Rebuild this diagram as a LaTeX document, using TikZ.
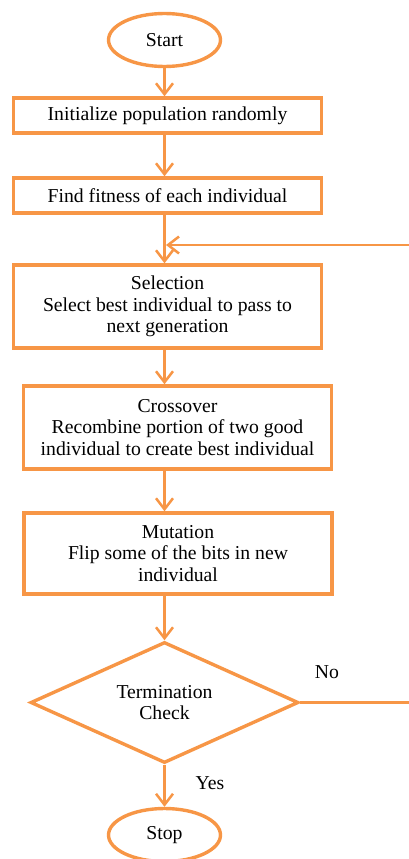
\documentclass[tikz,border=0pt]{standalone}
\usepackage{fontspec}
\setmainfont{Liberation Serif}
\usetikzlibrary{shapes.geometric,arrows.meta}
\definecolor{flow}{HTML}{F79646}
\begin{document}
\begin{tikzpicture}[x=1pt,y=-1pt,
  every node/.style={font=\fontsize{19.7}{21.6}\selectfont, text=black},
  procbox/.style={draw=flow, line width=3.4pt, rectangle, inner sep=0pt, align=center, minimum width=308pt},
  termin/.style={draw=flow, line width=3.4pt, ellipse, inner sep=0pt, minimum width=112pt, minimum height=53pt},
  decide/.style={draw=flow, line width=3.4pt, diamond, inner sep=0pt, aspect=2.2, minimum width=268pt, minimum height=121pt, align=center},
  arr/.style={draw=flow, line width=2.5pt, -{Straight Barb[length=11pt,width=17pt,line width=2.5pt]}},
  plain/.style={draw=flow, line width=2.5pt},
  lbl/.style={inner sep=0pt}
]
\useasboundingbox (0,0) rectangle (409,859);
\node[termin] (start) at (164.5,40) {Start};
\node[procbox, minimum height=35pt] (init) at (167.5,115.5) {Initialize population randomly};
\node[procbox, minimum height=35pt] (fit) at (167.5,195.5) {Find fitness of each individual};
\node[procbox, minimum height=83pt] (sel) at (167.5,306.5) {Selection\\Select best individual to pass to\\next generation};
\node[procbox, minimum height=83pt] (cross) at (177.5,427.5) {Crossover\\Recombine portion of two good\\individual to create best individual};
\node[procbox, minimum height=81pt] (mut) at (178,553.5) {Mutation\\Flip some of the bits in new\\individual};
\node[decide] (dec) at (164.5,702.5) {Termination\\Check};
\node[termin] (stop) at (164.5,835) {Stop};
\node[lbl] (no) at (327,672) {No};
\node[lbl] (yes) at (210,783) {Yes};
\coordinate (fb) at (409,245);
\coordinate (noend) at (409,702.5);
\draw[arr] (start.south) -- (start.south |- init.north);
\draw[arr] (start.south |- init.south) -- (start.south |- fit.north);
\draw[arr] (start.south |- fit.south) -- (start.south |- sel.north);
\draw[arr] (fb) -- ([xshift=1.5pt]fb -| start.south);
\draw[arr] (start.south |- sel.south) -- (start.south |- cross.north);
\draw[arr] (start.south |- cross.south) -- (start.south |- mut.north);
\draw[arr] (start.south |- mut.south) -- (dec.north);
\draw[arr] (dec.south) -- (stop.north);
\draw[plain] (dec.east) -- (noend);
\end{tikzpicture}
\end{document}
